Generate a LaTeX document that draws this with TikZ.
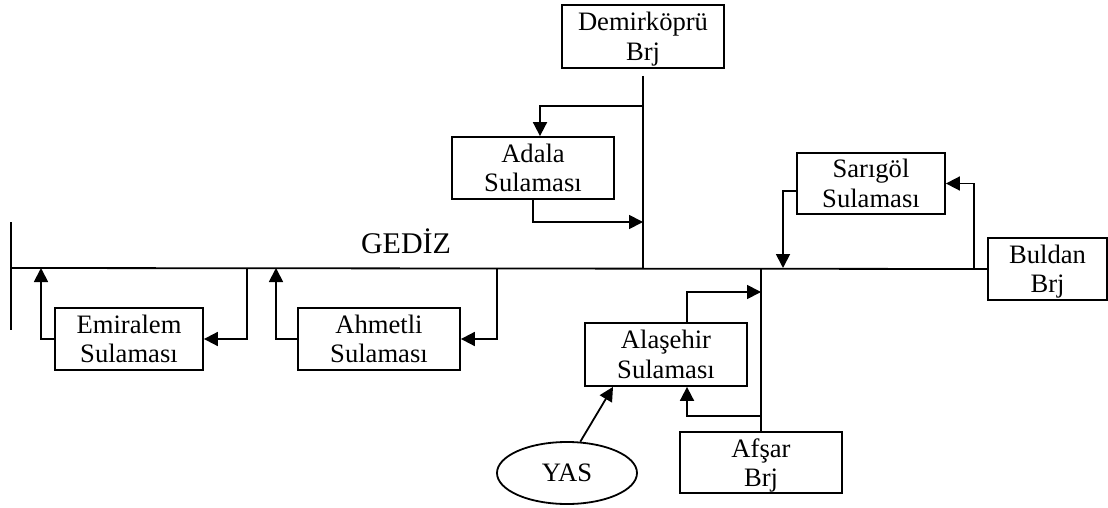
\documentclass[tikz,border=0pt]{standalone}
\usepackage{fontspec}
\setmainfont{Liberation Serif}
\usetikzlibrary{arrows.meta,shapes.geometric}
\begin{document}
\begin{tikzpicture}[x=1pt,y=-1pt,line width=1.8pt,
  box/.style={draw, line width=1.8pt, align=center, inner sep=0pt, text depth=0pt,
    minimum height=62pt, font=\fontsize{26.6}{29.5}\selectfont},
  flow/.style={-{Triangle[length=14pt,width=14pt]}},
  river/.style={line width=1.8pt}]
\useasboundingbox (0,0) rectangle (1108,508);

% stations and irrigation schemes
\node[box, minimum width=162pt, minimum height=63pt] (demir)  at (643,36.5)   {Demirköprü\\Brj};
\node[box, minimum width=162pt] (adala)  at (533,168)   {Adala\\Sulaması};
\node[box, minimum width=148pt] (emir)   at (129,339)   {Emiralem\\Sulaması};
\node[box, minimum width=162pt] (ahmet)  at (379,339)   {Ahmetli\\Sulaması};
\node[box, minimum width=162pt, minimum height=63pt] (alas)   at (666,354.5) {Alaşehir\\Sulaması};
\node[box, minimum width=162pt, minimum height=61pt] (afsar)  at (761,462.5) {Afşar\\Brj};
\node[box, minimum width=148pt, minimum height=61pt] (sarig)  at (871,183.5) {Sarıgöl\\Sulaması};
\node[box, minimum width=119pt] (buldan) at (1047.5,269) {Buldan\\Brj};
\node[ellipse, draw, line width=1.8pt, minimum width=140pt, minimum height=62pt,
      inner sep=0pt, font=\fontsize{26.6}{29.5}\selectfont] (yas) at (567,473) {YAS};

% river name
\node[anchor=base, inner sep=0pt, font=\fontsize{30}{32}\selectfont] (gediz) at (406,253) {GEDİZ};

% points on the main river and its tributaries
\coordinate (mouth) at (11,268);
\coordinate (mouthT) at (11,222);
\coordinate (mouthB) at (11,330);
\coordinate (eOut) at (247,268);
\coordinate (eIn)  at (41,268);
\coordinate (aOut) at (497,268);
\coordinate (aIn)  at (276,268);
\coordinate (dJ)   at (643,268);
\coordinate (dA)   at (643,106);
\coordinate (dB)   at (643,222);
\coordinate (fJ)   at (761,268);
\coordinate (fA)   at (761,292);
\coordinate (fB)   at (761,416);
\coordinate (sIn)  at (783,268);
\coordinate (sOut) at (974,268);

% main river and the delta mark
\draw[river] (mouth) -- (buldan.west);
\draw[river] (mouthT) -- (mouthB);

% Demirköprü branch and Adala scheme
\draw[river, shorten <=7pt] (demir.south) -- (dJ);
\draw[flow] (dA) -| ([xshift=7pt]adala.north);
\draw[flow] (adala.south) |- (dB);

% Emiralem and Ahmetli schemes
\draw[flow] (eOut) |- (emir.east);
\draw[flow] (emir.west) -| (eIn);
\draw[flow] (aOut) |- (ahmet.east);
\draw[flow] (ahmet.west) -| (aIn);

% Afşar branch and Alaşehir scheme
\draw[river] (fJ) -- (afsar.north);
\draw[flow] ([xshift=21pt]alas.north) |- (fA);
\draw[flow] (fB) -| ([xshift=21pt]alas.south);
\draw[flow] (yas.67) -- ([xshift=-53pt]alas.south);

% Sarıgöl scheme fed from the Buldan reach
\draw[flow] (sOut) |- (sarig.east);
\draw[flow] ([yshift=-7.5pt]sarig.west) -| (sIn);
\end{tikzpicture}
\end{document}
